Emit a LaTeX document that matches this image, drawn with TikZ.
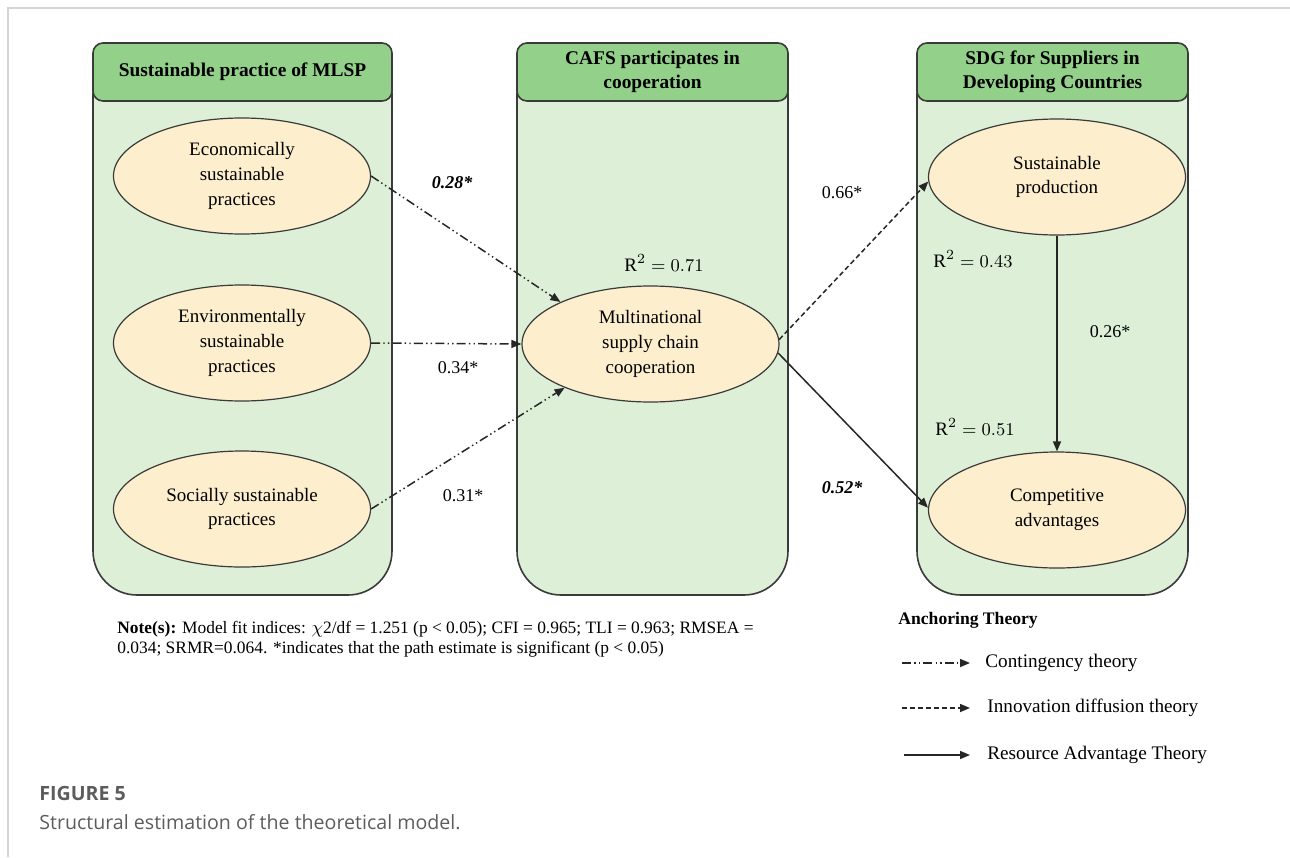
\documentclass[tikz,border=0pt]{standalone}
\usepackage{fontspec}
\setmainfont{Liberation Serif}
\newfontfamily\capfont{Open Sans}
\usetikzlibrary{arrows.meta,shapes.geometric}
\definecolor{hdrgreen}{HTML}{93D18B}
\definecolor{bodygreen}{HTML}{DDEFD7}
\definecolor{ellfill}{HTML}{FDEFCD}
\definecolor{edgegray}{HTML}{3A3A3A}
\definecolor{framegray}{HTML}{D4D4D4}
\definecolor{capgray}{HTML}{5C5C5C}
\begin{document}
\begin{tikzpicture}[x=0.5pt,y=-0.5pt,
  panelbody/.style={draw=edgegray, line width=0.8pt, fill=bodygreen, rounded corners=22pt},
  panelhead/.style={draw=edgegray, line width=0.8pt, fill=hdrgreen, rounded corners=5pt,
    minimum height=29pt, align=center, inner sep=1pt,
    font=\fontsize{9.7}{12}\selectfont\bfseries},
  latent/.style={ellipse, draw=edgegray, line width=0.6pt, fill=ellfill,
    minimum width=128.5pt, minimum height=58pt, align=center, inner sep=0pt,
    font=\fontsize{9.5}{12.3}\selectfont},
  linkbase/.style={draw=black!85, line width=0.75pt, -{Triangle[length=5pt,width=4pt]}},
  contingency/.style={linkbase, dash pattern=on 4.5pt off 1.6pt on 0.7pt off 1.6pt on 0.7pt off 1.6pt},
  innovation/.style={linkbase, dash pattern=on 2.5pt off 1.5pt},
  resource/.style={linkbase},
  coef/.style={font=\fontsize{9}{11}\selectfont, inner sep=0pt},
  coefit/.style={font=\fontsize{9}{11}\selectfont\bfseries\itshape, inner sep=0pt},
  rsq/.style={font=\fontsize{9.5}{11}\selectfont, inner sep=0pt},
  legtext/.style={anchor=west, font=\fontsize{9.6}{11}\selectfont, inner sep=0pt},
]
\useasboundingbox (0,0) rectangle (1290,857);

% page frame
\draw[framegray, line width=1pt] (8,857) -- (8,8) -- (1290,8);

% panel bodies
\draw[panelbody] (93,50) rectangle (392,595);
\draw[panelbody] (517,50) rectangle (788,595);
\draw[panelbody] (917,50) rectangle (1188,595);

% panel headers
\node[panelhead, minimum width=149.5pt] (h1) at (242.5,72) {Sustainable practice of MLSP};
\node[panelhead, minimum width=135.5pt] (h2) at (652.5,72) {CAFS participates in\\cooperation};
\node[panelhead, minimum width=135.5pt] (h3) at (1052.5,72) {SDG for Suppliers in\\Developing Countries};

% latent constructs
\node[latent] (eco) at (242,176) {Economically\\sustainable\\practices};
\node[latent] (env) at (242,343) {Environmentally\\sustainable\\practices};
\node[latent] (soc) at (242,509) {Socially sustainable\\practices};
\node[latent] (mid) at (650.5,344) {Multinational\\supply chain\\cooperation};
\node[latent] (sp)  at (1057,177) {Sustainable\\production};
\node[latent] (ca)  at (1057,510) {Competitive\\advantages};

% paths
\draw[contingency] (eco.east) -- (mid.155);
\draw[contingency] (env.east) -- (mid.west);
\draw[contingency] (soc.east) -- (mid.207);
\draw[innovation] (mid.2) -- (sp.182);
\draw[resource] (mid.-4) -- (ca.179);
\draw[resource] (sp.south) -- (ca.north);

% path estimates
\node[coefit] (c1) at (452,183) {0.28*};
\node[coef]   (c2) at (458,368) {0.34*};
\node[coef]   (c3) at (463,496) {0.31*};
\node[coef]   (c4) at (842,193) {0.66*};
\node[coefit] (c5) at (842,488) {0.52*};
\node[coef]   (c6) at (1110,332) {0.26*};

% explained variance
\node[rsq] (r1) at (664,263) {$\mathrm{R}^2 = 0.71$};
\node[rsq] (r2) at (973,259) {$\mathrm{R}^2 = 0.43$};
\node[rsq] (r3) at (975,427) {$\mathrm{R}^2 = 0.51$};

% fit note
\node[anchor=west, align=left, inner sep=0pt, font=\fontsize{8.7}{10}\selectfont] (note) at (117,639)
  {\textbf{Note(s):} Model fit indices: $\chi$2/df = 1.251 (p < 0.05); CFI = 0.965; TLI = 0.963; RMSEA =\\
   0.034; SRMR=0.064. *indicates that the path estimate is significant (p < 0.05)};

% legend
\node[anchor=west, inner sep=0pt, font=\fontsize{8.8}{11}\selectfont\bfseries] (legtitle) at (898,620) {Anchoring Theory};
\coordinate (la1) at (902,663); \coordinate (lb1) at (970,663);
\coordinate (la2) at (902,708); \coordinate (lb2) at (970,708);
\coordinate (la3) at (904,755); \coordinate (lb3) at (970,755);
\draw[contingency] (la1) -- (lb1);
\draw[innovation] (la2) -- (lb2);
\draw[resource] (la3) -- (lb3);
\node[legtext] (lt1) at (985,663) {Contingency theory};
\node[legtext] (lt2) at (987,708) {Innovation diffusion theory};
\node[legtext] (lt3) at (987,755) {Resource Advantage Theory};

% caption
\node[anchor=west, inner sep=0pt, text=capgray, font=\capfont\bfseries\fontsize{9.8}{12}\selectfont] (figno) at (39,793) {FIGURE 5};
\node[anchor=west, inner sep=0pt, text=capgray, font=\capfont\fontsize{9.8}{12}\selectfont] (figcap) at (39,822) {Structural estimation of the theoretical model.};
\end{tikzpicture}
\end{document}
